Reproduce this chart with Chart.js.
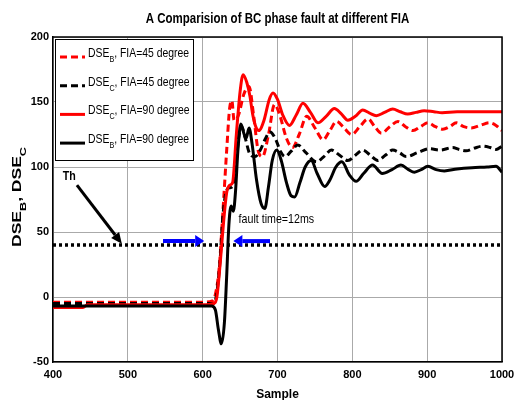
<!DOCTYPE html>
<html>
<head>
<meta charset="utf-8">
<script src="https://cdn.jsdelivr.net/npm/chart.js@4.4.1/dist/chart.umd.min.js"></script>
<style>
  html, body { margin: 0; padding: 0; background: #fff; }
  #chart { display: block; }
</style>
</head>
<body>
<canvas id="chart" width="515" height="400"></canvas>
<script>
const FONT = '"Liberation Sans", Arial, Helvetica, sans-serif';
const NARROW_X = 0.82;   // horizontal squeeze for the condensed Helvetica look

const chartTitle = 'A Comparision of BC phase fault at different FIA';
const xTitle = 'Sample';
const yTitle = 'DSE_B, DSE_C';   // _X = subscript X

const xTicks = [400, 1000, 100];   // min, max, step
const yTicks = [-50, 200, 50];

// legend order: red dashed, black dashed, red solid, black solid
const seriesNames = ['DSE_B, FIA=45 degree', 'DSE_C, FIA=45 degree', 'DSE_C, FIA=90 degree', 'DSE_B, FIA=90 degree'];

const dseB45 = [
    [400, -4], [500, -4], [600, -4], [613, -3], [617, 2], [622, 22], [627, 65], [632, 112], [636, 145], [639, 151],
    [642, 136], [648, 140], [655, 156], [662, 162], [668, 140], [674, 113], [680, 108], [688, 125], [696, 148],
    [703, 140], [712, 122], [720, 115], [729, 125], [739, 139], [750, 130], [761, 121], [770, 128], [779, 135],
    [789, 130], [799, 125], [810, 131], [821, 137], [830, 131], [839, 126], [850, 131], [861, 135], [871, 131],
    [881, 128], [891, 131], [901, 134], [911, 131], [921, 129], [930, 131], [939, 134], [949, 131], [959, 130],
    [971, 132], [983, 134], [992, 132], [1000, 128]
];
const dseC45 = [
    [400, -5], [500, -5], [600, -5], [614, -5], [618, 0], [623, 26], [627, 62], [632, 82], [636, 84], [640, 85],
    [644, 100], [648, 122], [652, 131], [657, 122], [663, 110], [670, 108], [677, 113], [684, 122], [690, 127],
    [697, 122], [704, 112], [710, 108], [718, 112], [727, 117], [738, 111], [752, 104], [762, 108], [772, 113],
    [783, 109], [794, 105], [804, 109], [814, 113], [824, 109], [834, 105], [844, 109], [854, 113], [863, 111],
    [872, 108], [887, 111], [903, 114], [918, 113], [934, 115], [943, 113.5], [952, 112.5], [963, 114.5],
    [974, 116], [984, 115], [992, 113.5], [1000, 116]
];
const dseC90 = [
    [400, -8], [440, -8], [446, -6], [600, -6], [615, -5], [619, 0], [624, 30], [628, 58], [632, 80], [636, 86],
    [640, 88], [645, 125], [650, 158], [654, 171], [659, 165], [663, 155], [667, 140], [671, 131], [675, 128],
    [682, 136], [689, 152], [694, 157], [700, 152], [707, 140], [716, 132], [725, 140], [734, 149], [744, 142],
    [754, 134], [765, 139], [776, 145], [785, 141], [794, 136], [804, 139], [814, 143.8], [823, 141.5],
    [832, 139.5], [843, 142], [854, 144.6], [864, 142.5], [874, 140.8], [885, 142], [896, 143.3], [909, 142.5],
    [920, 141.8], [940, 142.5], [960, 142.5], [980, 142.5], [1000, 142.5]
];
const dseB90 = [
    [400, -7], [600, -7], [612, -7], [617, -10], [621, -25], [625, -36], [629, -20], [632, 15], [635, 55],
    [638, 70], [641, 66], [644, 82], [647, 112], [651, 133], [655, 126], [658, 122], [662, 130], [666, 118],
    [672, 90], [678, 72], [683, 68], [688, 85], [693, 105], [699, 113], [705, 105], [712, 88], [718, 78],
    [723, 77], [730, 88], [737, 100], [745, 105], [753, 95], [763, 85], [770, 90], [778, 100], [786, 104],
    [796, 94], [805, 89], [815, 95], [827, 101.5], [840, 95], [853, 98], [865, 101.5], [875, 98], [883, 96],
    [892, 98], [901, 100.5], [912, 98], [923, 97], [940, 98.5], [960, 99.5], [980, 100], [992, 100.5], [1000, 96]
];

const thValue = 40;
const thSpan = [400, 1000];

// annotations, in data units
const blueArrows = [[547, 43, 602, 43], [690, 43, 641, 43]];
const thArrow = [432, 86, 492, 41];
const notes = [
    { text: 'Th', x: 413, y: 93, bold: true },
    { text: 'fault time=12ms', x: 648, y: 60, bold: false }
];

const seriesData = [dseB45, dseC45, dseC90, dseB90];
const seriesColors = ['#ff0000', '#000000', '#ff0000', '#000000'];
const seriesDashed = [true, true, false, false];

function richParts(s) {
    const parts = [];
    s.split(/_(\w)/).forEach((t, i) => {
        if (t) parts.push({ text: t, sub: i % 2 === 1 });
    });
    return parts;
}

// draws text with subscripts, returns end x
function drawRich(ctx, parts, x, y, size, weight) {
    parts.forEach(p => {
        const fs = p.sub ? Math.round(size * 0.72) : size;
        ctx.font = `${weight} ${fs}px ${FONT}`;
        ctx.fillText(p.text, x, p.sub ? y + size * 0.38 : y);
        x += ctx.measureText(p.text).width;
    });
    return x;
}

function richWidth(ctx, parts, size, weight) {
    let w = 0;
    parts.forEach(p => {
        ctx.font = `${weight} ${p.sub ? Math.round(size * 0.72) : size}px ${FONT}`;
        w += ctx.measureText(p.text).width;
    });
    return w;
}

function squeezed(ctx, x, y, sx, fn) {
    ctx.save();
    ctx.translate(x, y);
    ctx.scale(sx, 1);
    fn();
    ctx.restore();
}

function arrow(ctx, x1, y1, x2, y2, color, width, headLen, headHalf) {
    const a = Math.atan2(y2 - y1, x2 - x1);
    const bx = x2 - headLen * Math.cos(a), by = y2 - headLen * Math.sin(a);
    ctx.strokeStyle = color;
    ctx.lineWidth = width;
    ctx.setLineDash([]);
    ctx.beginPath();
    ctx.moveTo(x1, y1);
    ctx.lineTo(bx, by);
    ctx.stroke();
    ctx.fillStyle = color;
    ctx.beginPath();
    ctx.moveTo(x2, y2);
    ctx.lineTo(bx + headHalf * Math.sin(a), by - headHalf * Math.cos(a));
    ctx.lineTo(bx - headHalf * Math.sin(a), by + headHalf * Math.cos(a));
    ctx.closePath();
    ctx.fill();
}

const decorPlugin = {
    id: 'decor',
    afterDatasetsDraw(chart) {
        const ctx = chart.ctx;
        const xs = chart.scales.x, ys = chart.scales.y;
        const area = chart.chartArea;
        ctx.save();

        // box: top and right edges
        ctx.strokeStyle = '#000';
        ctx.lineWidth = 1.5;
        ctx.beginPath();
        ctx.moveTo(area.left, area.top);
        ctx.lineTo(area.right, area.top);
        ctx.lineTo(area.right, area.bottom);
        ctx.stroke();

        blueArrows.forEach(a => {
            arrow(ctx, xs.getPixelForValue(a[0]), ys.getPixelForValue(a[1]),
                xs.getPixelForValue(a[2]), ys.getPixelForValue(a[3]), '#0000ff', 4, 9, 6);
        });
        arrow(ctx, xs.getPixelForValue(thArrow[0]), ys.getPixelForValue(thArrow[1]),
            xs.getPixelForValue(thArrow[2]), ys.getPixelForValue(thArrow[3]), '#000', 3, 11, 5);

        ctx.fillStyle = '#000';
        ctx.textBaseline = 'middle';
        ctx.textAlign = 'left';
        notes.forEach(n => {
            squeezed(ctx, xs.getPixelForValue(n.x), ys.getPixelForValue(n.y), NARROW_X, () => {
                ctx.font = `${n.bold ? 'bold' : 'normal'} 13px ${FONT}`;
                ctx.fillText(n.text, 0, 0);
            });
        });
        ctx.restore();
    },
    afterDraw(chart) {
        const ctx = chart.ctx;
        const area = chart.chartArea;
        ctx.save();

        // title
        ctx.fillStyle = '#000';
        ctx.textAlign = 'center';
        ctx.textBaseline = 'middle';
        squeezed(ctx, (area.left + area.right) / 2, 19, NARROW_X, () => {
            ctx.font = `bold 14px ${FONT}`;
            ctx.fillText(chartTitle, 0, 0);
        });

        // legend
        const lx = area.left + 2, ly = area.top + 2, lw = 138, lh = 121;
        ctx.fillStyle = '#fff';
        ctx.fillRect(lx, ly, lw, lh);
        ctx.strokeStyle = '#000';
        ctx.lineWidth = 1;
        ctx.strokeRect(lx + 0.5, ly + 0.5, lw, lh);
        ctx.textAlign = 'left';
        ctx.textBaseline = 'alphabetic';
        seriesNames.forEach((name, i) => {
            const y = ly + 18 + i * 28.7;
            ctx.strokeStyle = seriesColors[i];
            ctx.lineWidth = 3;
            ctx.setLineDash(seriesDashed[i] ? [7, 4] : []);
            ctx.beginPath();
            ctx.moveTo(lx + 5, y);
            ctx.lineTo(lx + 30, y);
            ctx.stroke();
            ctx.setLineDash([]);
            ctx.fillStyle = '#000';
            squeezed(ctx, lx + 33, y, 0.8, () => {
                drawRich(ctx, richParts(name), 0, 0, 13, 'normal');
            });
        });

        // y axis title with subscripts
        const parts = richParts(yTitle);
        const w = richWidth(ctx, parts, 12.5, 'bold');
        ctx.translate(21, 197);
        ctx.rotate(-Math.PI / 2);
        ctx.scale(1.4, 1);
        ctx.fillStyle = '#000';
        drawRich(ctx, parts, -w / 2, 0, 12.5, 'bold');
        ctx.restore();
    }
};

const datasets = seriesNames.map((name, i) => ({
    label: name,
    data: seriesData[i].map(p => ({ x: p[0], y: p[1] })),
    borderColor: seriesColors[i],
    borderWidth: 3,
    borderDash: seriesDashed[i] ? [7, 4] : [],
    pointRadius: 0,
    cubicInterpolationMode: 'monotone',
    order: seriesNames.length - i
}));
datasets.push({
    label: 'Th',
    data: thSpan.map(x => ({ x: x, y: thValue })),
    borderColor: '#000',
    borderWidth: 3.5,
    borderDash: [3, 3],
    pointRadius: 0,
    order: 10
});

new Chart(document.getElementById('chart'), {
    type: 'line',
    data: { datasets: datasets },
    options: {
        responsive: false,
        devicePixelRatio: 1,
        animation: false,
        layout: { padding: { left: 0, right: 13, top: 37, bottom: 0 } },
        plugins: {
            legend: { display: false },
            tooltip: { enabled: false },
            title: { display: false }
        },
        scales: {
            x: {
                type: 'linear',
                min: xTicks[0],
                max: xTicks[1],
                ticks: {
                    stepSize: xTicks[2],
                    color: '#000',
                    padding: 6,
                    maxRotation: 0,
                    font: { family: FONT, size: 11, weight: 'bold' },
                    callback: v => String(v)
                },
                grid: { color: '#aaaaaa', lineWidth: 1, drawTicks: false },
                border: { color: '#000', width: 1.5 },
                title: {
                    display: true,
                    text: xTitle,
                    color: '#000',
                    font: { family: FONT, size: 12, weight: 'bold' },
                    padding: { top: 0, bottom: -2 }
                },
                afterFit(scale) {
                    scale.height = 38;
                    scale.paddingLeft = 0;
                    scale.paddingRight = 0;
                }
            },
            y: {
                min: yTicks[0],
                max: yTicks[1],
                ticks: {
                    stepSize: yTicks[2],
                    color: '#000',
                    padding: 4,
                    font: { family: FONT, size: 11, weight: 'bold' }
                },
                grid: { color: '#aaaaaa', lineWidth: 1, drawTicks: false },
                border: { color: '#000', width: 1.5 },
                afterFit(scale) { scale.width = 53; }
            }
        }
    },
    plugins: [decorPlugin]
});
</script>
</body>
</html>
